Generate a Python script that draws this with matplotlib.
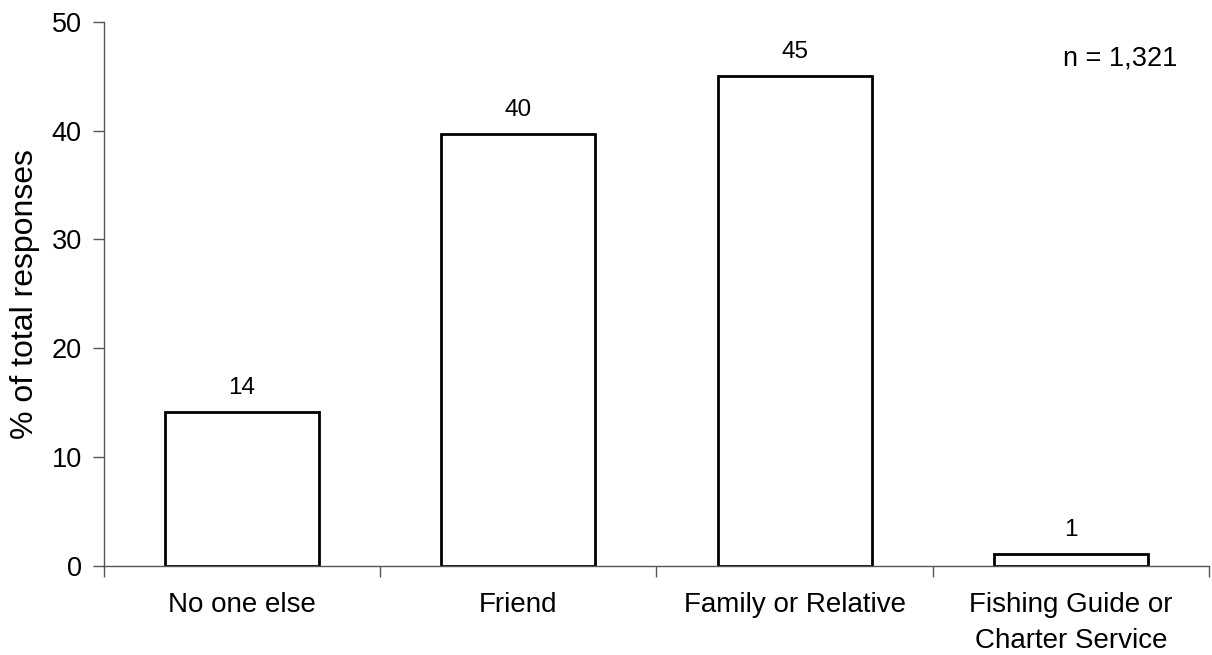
import numpy as np
import matplotlib.pyplot as plt

plt.rcParams['font.family'] = ['Liberation Sans', 'DejaVu Sans']

categories = ['No one else', 'Friend', 'Family or Relative', 'Fishing Guide or\nCharter Service']
values = [14.1, 39.7, 45.0, 1.1]
labels = ['14', '40', '45', '1']

fig = plt.figure(figsize=(12.12, 6.55), dpi=100)
ax = fig.add_axes([0.0858, 0.1363, 0.9117, 0.8301])

x = np.arange(len(categories))
bars = ax.bar(x, values, width=0.557, color='white', edgecolor='black', linewidth=2)

for xi, v, t in zip(x, values, labels):
    ax.text(xi, v + 1.2, t, ha='center', va='bottom', fontsize=17.5)

ax.set_xlim(-0.5, len(categories) - 0.5)
ax.set_ylim(0, 50)
ax.set_yticks([0, 10, 20, 30, 40, 50])
ax.tick_params(axis='y', labelsize=19.5, length=8, width=1, color='#555555', pad=8)

# etiquetas sin marcas, las marcas van entre grupos
ax.set_xticks(x)
ax.set_xticklabels(categories, fontsize=20, linespacing=1.5)
ax.tick_params(axis='x', which='major', length=0, pad=19)
ax.set_xticks(np.arange(-0.5, len(categories)), minor=True)
ax.tick_params(axis='x', which='minor', length=8, width=1, color='#555555')

for s in ['top', 'right']:
    ax.spines[s].set_visible(False)
for s in ['left', 'bottom']:
    ax.spines[s].set_color('#555555')
    ax.spines[s].set_linewidth(1)

ax.set_ylabel('% of total responses', fontsize=23, labelpad=8)
ax.text(3.387, 46.6, 'n = 1,321', ha='right', va='center', fontsize=19.5)

fig.savefig('out.png', dpi=100)
